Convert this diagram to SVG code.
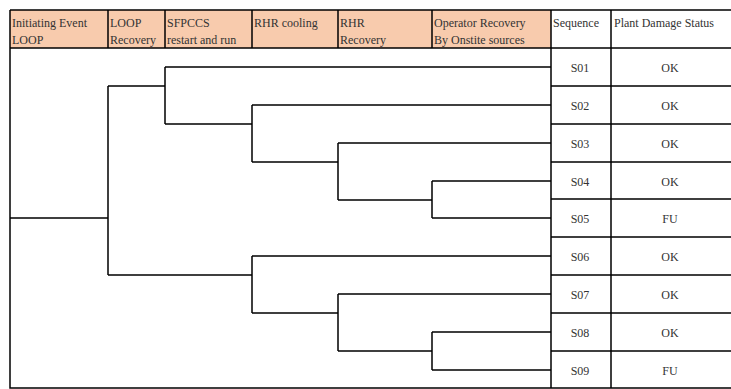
<svg xmlns="http://www.w3.org/2000/svg" width="731" height="389" viewBox="0 0 731 389">
<style>
.hdr{fill:#F8CBAD;stroke:none}
.t{font-family:"Liberation Serif","Times New Roman",serif;font-size:12px;fill:#333}
.c{text-anchor:middle}
.grid{stroke:#000;stroke-width:1.5;fill:none}
.br{stroke:#000;stroke-width:1.5;fill:none}
</style>
<rect width="731" height="389" fill="#fff"/>
<g id="header">
<rect class="hdr" x="10" y="10" width="541" height="38"/>
<path class="grid" d="M10 10H731M10 48H731M108 10V48M165 10V48M252 10V48M338 10V48M432 10V48"/>
<text class="t" x="12" y="27">Initiating Event</text><text class="t" x="12" y="44">LOOP</text>
<text class="t" x="110" y="27">LOOP</text><text class="t" x="110" y="44">Recovery</text>
<text class="t" x="167" y="27">SFPCCS</text><text class="t" x="167" y="44">restart and run</text>
<text class="t" x="254" y="27">RHR cooling</text>
<text class="t" x="340" y="27">RHR</text><text class="t" x="340" y="44">Recovery</text>
<text class="t" x="434" y="27">Operator Recovery</text><text class="t" x="434" y="44">By Onstite sources</text>
<text class="t" x="553" y="27">Sequence</text>
<text class="t" x="614" y="27">Plant Damage Status</text>
</g>
<g id="table">
<path class="grid" d="M10 10V388H731M551 10V388M611 10V388M551 86H731M551 124H731M551 162H731M551 199H731M551 237H731M551 275H731M551 313H731M551 351H731"/>
</g>
<g id="rows">
<g id="S01"><text class="t c" x="580" y="72">S01</text><text class="t c" x="670" y="72">OK</text></g>
<g id="S02"><text class="t c" x="580" y="110">S02</text><text class="t c" x="670" y="110">OK</text></g>
<g id="S03"><text class="t c" x="580" y="148">S03</text><text class="t c" x="670" y="148">OK</text></g>
<g id="S04"><text class="t c" x="580" y="186">S04</text><text class="t c" x="670" y="186">OK</text></g>
<g id="S05"><text class="t c" x="580" y="223">S05</text><text class="t c" x="670" y="223">FU</text></g>
<g id="S06"><text class="t c" x="580" y="261">S06</text><text class="t c" x="670" y="261">OK</text></g>
<g id="S07"><text class="t c" x="580" y="299">S07</text><text class="t c" x="670" y="299">OK</text></g>
<g id="S08"><text class="t c" x="580" y="337">S08</text><text class="t c" x="670" y="337">OK</text></g>
<g id="S09"><text class="t c" x="580" y="375">S09</text><text class="t c" x="670" y="375">FU</text></g>
</g>
<g id="connectors">
<path class="br" d="M10 218H108M108 86V275"/>
<path class="br" d="M108 86H165M165 67V124M165 67H551M165 124H252M252 105V162M252 105H551M252 162H338M338 143V200M338 143H551M338 200H432M432 181V218M432 181H551M432 218H551"/>
<path class="br" d="M108 275H252M252 256V313M252 256H551M252 313H338M338 294V351M338 294H551M338 351H432M432 332V370M432 332H551M432 370H551"/>
</g>
</svg>
